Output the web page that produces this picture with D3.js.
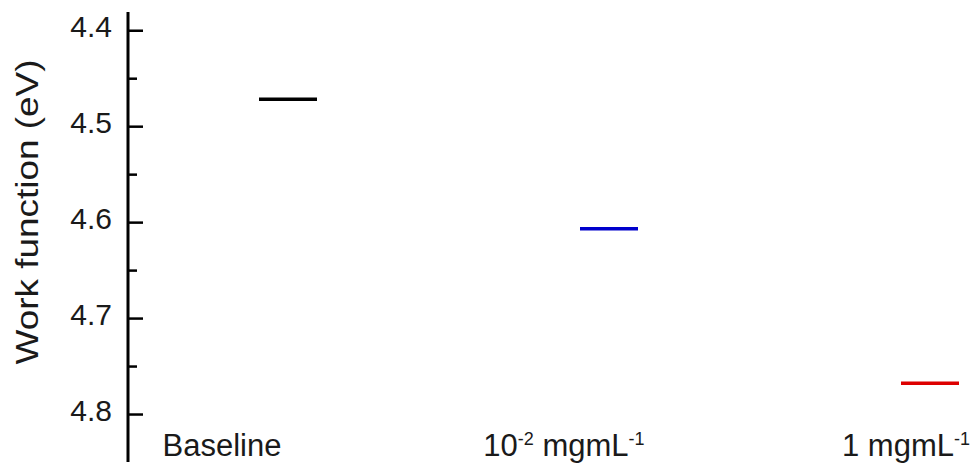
<!DOCTYPE html>
<html>
<head>
<meta charset="utf-8">
<script src="https://cdn.jsdelivr.net/npm/d3@7"></script>
<style>
  body { margin: 0; background: #fff; }
  svg { display: block; font-family: "Liberation Sans", Arial, sans-serif; }
</style>
</head>
<body>
<svg id="graphique" width="976" height="464"></svg>
<script>
// data
var categories = ["Baseline", "10-2", "1"];
var workFunction = [4.472, 4.607, 4.768];
var lineColors = ["#000000", "#0000cc", "#dd0000"];
var yTicks = [4.4, 4.5, 4.6, 4.7, 4.8];
var yMinorTicks = [4.45, 4.55, 4.65, 4.75];

var svg = d3.select("#graphique");

var yScale = d3.scaleLinear().domain([4.381, 4.85]).range([12, 462]);
var xScale = d3.scalePoint().domain(categories).range([288, 930]);
var xLabel = d3.scalePoint().domain(categories).range([222, 906]);

var AXIS_X = 128;

// y axis, ticks pointing into the plot
var yAxis = d3.axisRight(yScale).tickValues(yTicks).tickSize(15).tickFormat("");
var gy = svg.append("g").attr("transform", "translate(" + AXIS_X + ",0)").call(yAxis);
gy.select(".domain").remove();
gy.selectAll(".tick line").attr("stroke", "#000").attr("stroke-width", 2.5);

var yMinor = d3.axisRight(yScale).tickValues(yMinorTicks).tickSize(9).tickFormat("");
var gm = svg.append("g").attr("transform", "translate(" + AXIS_X + ",0)").call(yMinor);
gm.select(".domain").remove();
gm.selectAll(".tick line").attr("stroke", "#000").attr("stroke-width", 2.5);

svg.append("line")
  .attr("x1", AXIS_X).attr("x2", AXIS_X)
  .attr("y1", yScale.range()[0]).attr("y2", yScale.range()[1])
  .attr("stroke", "#000").attr("stroke-width", 3);

// tick labels
svg.selectAll(".ylab").data(yTicks).enter().append("text")
  .attr("x", 112)
  .attr("y", function(d){ return yScale(d) - 4; })
  .attr("dy", "0.36em")
  .attr("text-anchor", "end")
  .attr("font-size", 30)
  .attr("fill", "#1a1a1a")
  .text(function(d){ return d.toFixed(1); });

// axis title (stretched a bit along its length, like the original)
svg.append("text")
  .attr("transform", "translate(38,212) rotate(-90)")
  .attr("text-anchor", "middle")
  .attr("font-size", 32)
  .attr("textLength", 305)
  .attr("lengthAdjust", "spacingAndGlyphs")
  .attr("fill", "#1a1a1a")
  .text("Work function (eV)");

// level segments
svg.selectAll(".level").data(workFunction).enter().append("line")
  .attr("x1", function(d, i){ return xScale(categories[i]) - 29; })
  .attr("x2", function(d, i){ return xScale(categories[i]) + 29; })
  .attr("y1", function(d){ return yScale(d); })
  .attr("y2", function(d){ return yScale(d); })
  .attr("stroke", function(d, i){ return lineColors[i]; })
  .attr("stroke-width", 3.5);

// category labels
var labY = 456;
function catLabel(cat){
  return svg.append("text")
    .attr("x", xLabel(cat))
    .attr("y", labY)
    .attr("text-anchor", "middle")
    .attr("font-size", 31)
    .attr("fill", "#1a1a1a");
}
catLabel("Baseline").text("Baseline");

var t2 = catLabel("10-2");
t2.append("tspan").text("10");
t2.append("tspan").attr("font-size", 18).attr("dy", -11).text("-2");
t2.append("tspan").attr("dy", 11).text(" mgmL");
t2.append("tspan").attr("font-size", 18).attr("dy", -11).text("-1");

var t3 = catLabel("1");
t3.append("tspan").text("1 mgmL");
t3.append("tspan").attr("font-size", 18).attr("dy", -11).text("-1");
</script>
</body>
</html>
